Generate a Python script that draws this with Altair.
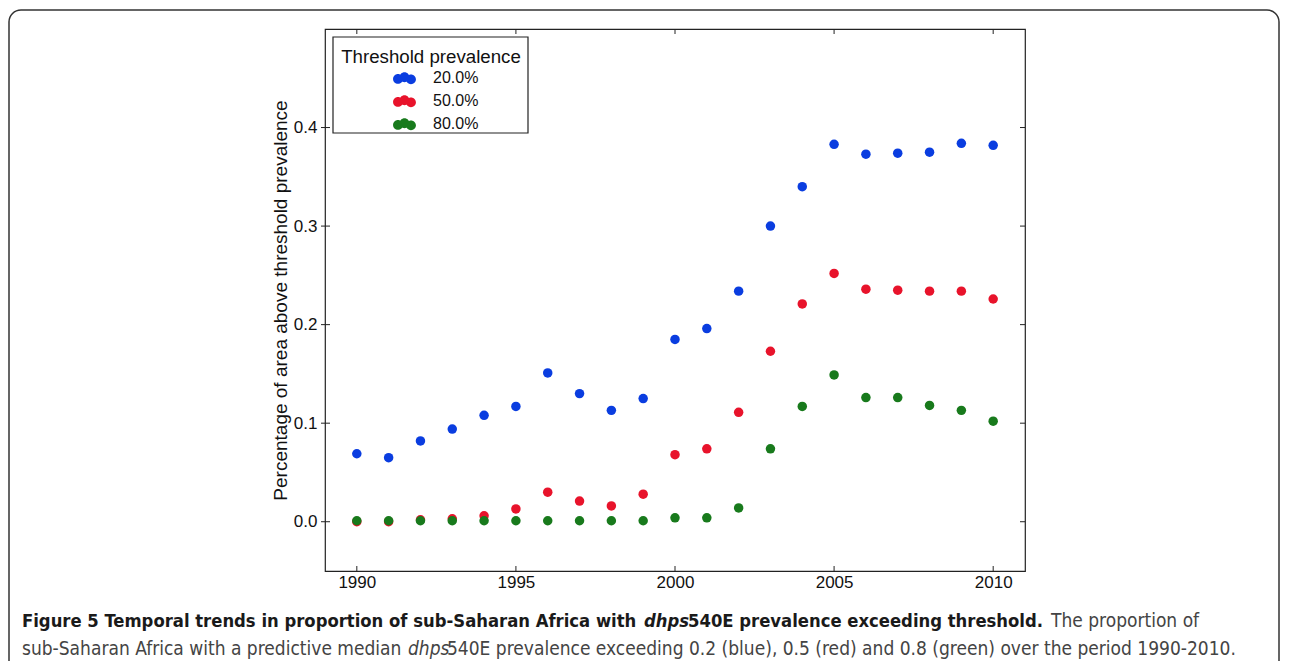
import altair as alt
import pandas as pd

years = list(range(1990, 2011))
blue_vals = [0.069, 0.065, 0.082, 0.094, 0.108, 0.117, 0.151, 0.130, 0.113, 0.125,
             0.185, 0.196, 0.234, 0.300, 0.340, 0.383, 0.373, 0.374, 0.375, 0.384, 0.382]
red_vals = [0.000, 0.000, 0.002, 0.003, 0.006, 0.013, 0.030, 0.021, 0.016, 0.028,
            0.068, 0.074, 0.111, 0.173, 0.221, 0.252, 0.236, 0.235, 0.234, 0.234, 0.226]
green_vals = [0.001, 0.001, 0.001, 0.001, 0.001, 0.001, 0.001, 0.001, 0.001, 0.001,
              0.004, 0.004, 0.014, 0.074, 0.117, 0.149, 0.126, 0.126, 0.118, 0.113, 0.102]
series_names = ["20.0%", "50.0%", "80.0%"]
series_colors = ["#0a3de0", "#e8132b", "#187a1c"]
x_ticks = [1990, 1995, 2000, 2005, 2010]
y_ticks = [0.0, 0.1, 0.2, 0.3, 0.4]

rows = []
for name, vals in zip(series_names, [blue_vals, red_vals, green_vals]):
    for yr, v in zip(years, vals):
        rows.append({"year": yr, "value": v, "series": name})
df = pd.DataFrame(rows)
df["order"] = range(len(df))

W, H = 700, 542
FONT = "Liberation Sans"
CAP_FONT = "DejaVu Sans Condensed, Liberation Sans Narrow, sans-serif"
OX, OY = 325, 29  # page position of the plot origin

xscale = alt.Scale(domain=[1989, 2011], nice=False, zero=False)
yscale = alt.Scale(domain=[-0.05, 0.5], nice=False, zero=False)

# three staggered dots as the legend symbol
r = 0.43
def dot(cx, cy):
    return f"M{cx - r:.3f},{cy:.3f}a{r},{r} 0 1,0 {2*r:.3f},0a{r},{r} 0 1,0 {-2*r:.3f},0Z"
legend_path = dot(-0.565, 0.06) + dot(0.0, -0.08) + dot(0.565, 0.1)

points = alt.Chart(df).mark_circle(size=90, opacity=1).encode(
    x=alt.X("year:Q", scale=xscale,
            axis=alt.Axis(values=x_ticks, format="d", title=None, ticks=False,
                          domain=False, grid=False, labelPadding=3)),
    y=alt.Y("value:Q", scale=yscale,
            axis=alt.Axis(values=y_ticks, format=".1f",
                          title="Percentage of area above threshold prevalence",
                          ticks=False, domain=False, grid=False, labelPadding=8,
                          titlePadding=3)),
    color=alt.Color("series:N",
                    scale=alt.Scale(domain=series_names, range=series_colors),
                    legend=alt.Legend(title="Threshold prevalence", orient="none",
                                      legendX=16, legendY=19,
                                      symbolType=legend_path, symbolSize=529,
                                      symbolStrokeWidth=0, symbolOffset=9,
                                      labelOffset=17, rowPadding=3,
                                      titleFontSize=18.7, titleFontWeight="normal",
                                      labelFontSize=16, titlePadding=0,
                                      padding=0)),
    order=alt.Order("order:Q"),
)

xt = pd.DataFrame({"year": x_ticks})
yt = pd.DataFrame({"value": y_ticks})
tick_b = alt.Chart(xt).mark_rule(color="#222", strokeWidth=1).encode(
    x=alt.X("year:Q", scale=xscale, axis=None), y=alt.value(H), y2=alt.value(H - 5))
tick_t = alt.Chart(xt).mark_rule(color="#222", strokeWidth=1).encode(
    x=alt.X("year:Q", scale=xscale, axis=None), y=alt.value(0), y2=alt.value(5))
tick_l = alt.Chart(yt).mark_rule(color="#222", strokeWidth=1).encode(
    y=alt.Y("value:Q", scale=yscale, axis=None), x=alt.value(-4), x2=alt.value(5))
tick_r = alt.Chart(yt).mark_rule(color="#222", strokeWidth=1).encode(
    y=alt.Y("value:Q", scale=yscale, axis=None), x=alt.value(W), x2=alt.value(W - 5))

one = pd.DataFrame({"k": [0]})

border = alt.Chart(one).mark_rect(cornerRadius=12, fillOpacity=0, stroke="#333",
                                  strokeWidth=1.5).encode(
    x=alt.value(9 - OX), x2=alt.value(1279 - OX),
    y=alt.value(10 - OY), y2=alt.value(720 - OY))

legend_frame = alt.Chart(one).mark_rect(fill="white", stroke="#222",
                                        strokeWidth=1.2).encode(
    x=alt.value(333 - OX), x2=alt.value(528 - OX),
    y=alt.value(37 - OY), y2=alt.value(133 - OY))

B, R = 18.3, 19.0
L1, L2 = 627, 655
caption_parts = [
    ("Figure 5 Temporal trends in proportion of sub-Saharan Africa with ", 22, L1, B, "bold", "normal", "#1a1a1a"),
    ("dhps", 644, L1, B, "bold", "italic", "#1a1a1a"),
    ("540E prevalence exceeding threshold.", 688, L1, B, "bold", "normal", "#1a1a1a"),
    ("The proportion of", 1051, L1, R, "normal", "normal", "#444444"),
    ("sub-Saharan Africa with a predictive median ", 22, L2, R, "normal", "normal", "#444444"),
    ("dhps", 408, L2, R, "normal", "italic", "#444444"),
    ("540E prevalence exceeding 0.2 (blue), 0.5 (red) and 0.8 (green) over the period 1990-2010.", 447, L2, R, "normal", "normal", "#444444"),
]
cap_layers = []
for txt, px, py, fsz, fw, fs, col in caption_parts:
    cap_layers.append(
        alt.Chart(one).mark_text(text=txt, align="left", baseline="alphabetic",
                                 font=CAP_FONT, fontSize=fsz, fontWeight=fw,
                                 fontStyle=fs, color=col).encode(
            x=alt.value(px - OX), y=alt.value(py - OY)))

chart = alt.layer(border, points, legend_frame, tick_b, tick_t, tick_l, tick_r,
                  *cap_layers).resolve_axis(
    x="independent", y="independent"
).properties(
    width=W, height=H,
    autosize=alt.AutoSizeParams(type="none"),
    padding={"left": OX - 8, "top": OY - 8, "right": 1273 - (OX - 8) - W, "bottom": 92},
).configure_view(stroke="#222", strokeWidth=1.2).configure_axis(
    labelFont=FONT, labelFontSize=17, labelColor="#111",
    titleFont=FONT, titleFontSize=19, titleFontWeight="normal", titleColor="#111",
).configure_legend(labelFont=FONT, titleFont=FONT, labelColor="#111", titleColor="#111",
                   titleAnchor="middle")

chart.save("out.html", embed_options={"renderer": "svg", "actions": False})
